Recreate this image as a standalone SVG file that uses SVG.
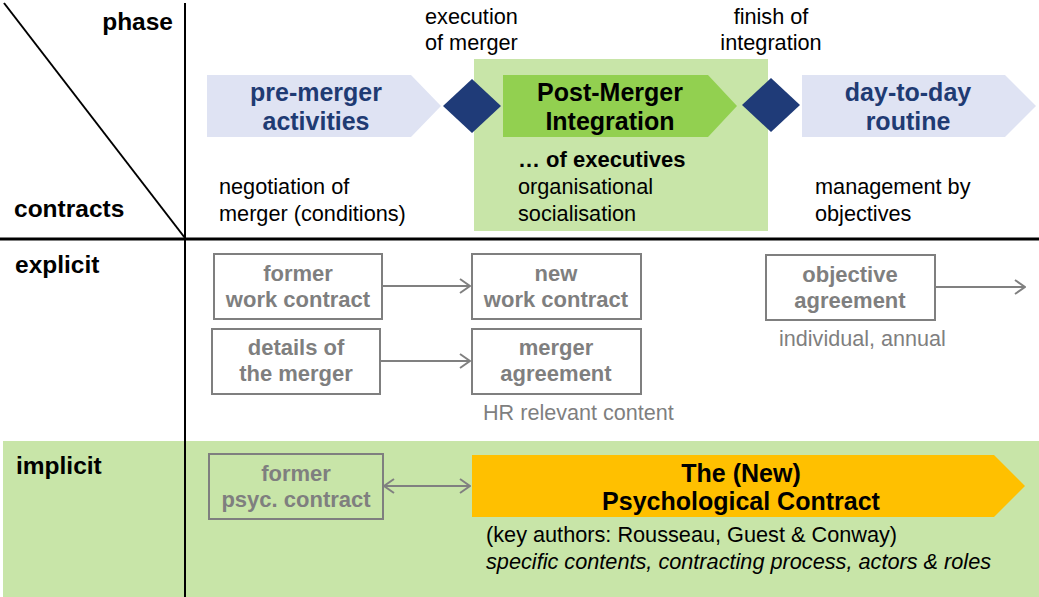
<svg xmlns="http://www.w3.org/2000/svg" width="1039" height="597" viewBox="0 0 1039 597">
<defs>
<style>
text{font-family:"Liberation Sans",Arial,sans-serif;}
.lbl{font-size:24.5px;font-weight:bold;fill:#000;}
.ph{font-size:25px;font-weight:bold;text-anchor:middle;}
.blue{fill:#1F3B73;}
.reg{font-size:21.7px;fill:#000;}
.box{fill:none;stroke:#7F7F7F;stroke-width:2;}
.bt{font-size:22px;font-weight:bold;fill:#7F7F7F;text-anchor:middle;}
.gt{font-size:21.6px;fill:#7F7F7F;}
.con{fill:none;stroke:#808080;stroke-width:2;}
.axis{stroke:#000;fill:none;}
</style>
<marker id="ah" viewBox="0 0 12 16" refX="11" refY="8" markerWidth="12" markerHeight="16" markerUnits="userSpaceOnUse" orient="auto-start-reverse">
<path d="M1,1 L11,8 L1,15" fill="none" stroke="#808080" stroke-width="2"/>
</marker>
</defs>

<!-- backgrounds -->
<rect id="bg-post" x="474" y="59" width="294" height="172" fill="#C8E5A8"/>
<rect id="bg-implicit" x="3" y="441" width="1036" height="156" fill="#C8E5A8"/>

<!-- axes -->
<g id="axes">
<line class="axis" x1="4" y1="3" x2="185" y2="238" stroke-width="2"/>
<line class="axis" x1="185" y1="3" x2="185" y2="597" stroke-width="2"/>
<line class="axis" x1="0" y1="239" x2="1039" y2="239" stroke-width="3"/>
</g>

<!-- row labels -->
<text class="lbl" x="173" y="30" text-anchor="end">phase</text>
<text class="lbl" x="14" y="217">contracts</text>
<text class="lbl" x="15" y="273">explicit</text>
<text class="lbl" x="16" y="474">implicit</text>

<!-- milestone labels -->
<text class="reg" x="425" y="24">execution</text>
<text class="reg" x="425" y="50">of merger</text>
<text class="reg" x="771" y="24" text-anchor="middle">finish of</text>
<text class="reg" x="771" y="50" text-anchor="middle">integration</text>

<!-- phases -->
<g id="pre-merger">
<polygon points="207,75 411,75 441,106 411,137 207,137" fill="#DFE3F3"/>
<text class="ph blue" x="316" y="101">pre-merger</text>
<text class="ph blue" x="316" y="130">activities</text>
</g>
<g id="diamond-execution">
<polygon points="443,106 472,79 501,106 472,133" fill="#1F3B78"/>
</g>
<g id="post-merger">
<polygon points="503,75 708,75 737,106 708,137 503,137" fill="#92D050"/>
<text class="ph" x="610" y="101">Post-Merger</text>
<text class="ph" x="610" y="130">Integration</text>
</g>
<g id="diamond-finish">
<polygon points="742,105 771,78 800,105 771,132" fill="#1F3B78"/>
</g>
<g id="day-to-day">
<polygon points="802,75 1005,75 1036,106 1005,137 802,137" fill="#DFE3F3"/>
<text class="ph blue" x="908" y="101">day-to-day</text>
<text class="ph blue" x="908" y="130">routine</text>
</g>

<!-- phase descriptions -->
<text class="reg" x="219" y="194">negotiation of</text>
<text class="reg" x="219" y="221">merger (conditions)</text>
<text class="reg" x="518" y="167" font-weight="bold" style="font-size:22px">… of executives</text>
<text class="reg" x="518" y="194">organisational</text>
<text class="reg" x="518" y="221">socialisation</text>
<text class="reg" x="815" y="194">management by</text>
<text class="reg" x="815" y="221">objectives</text>

<!-- explicit boxes -->
<g id="former-work-contract">
<rect class="box" x="214" y="254" width="168" height="65"/>
<text class="bt" x="298" y="281">former</text>
<text class="bt" x="298" y="307">work contract</text>
</g>
<g id="new-work-contract">
<rect class="box" x="472" y="254" width="169" height="65"/>
<text class="bt" x="556" y="281">new</text>
<text class="bt" x="556" y="307">work contract</text>
</g>
<g id="details-merger">
<rect class="box" x="212" y="329" width="168" height="65"/>
<text class="bt" x="296" y="355">details of</text>
<text class="bt" x="296" y="381">the merger</text>
</g>
<g id="merger-agreement">
<rect class="box" x="472" y="329" width="169" height="65"/>
<text class="bt" x="556" y="355">merger</text>
<text class="bt" x="556" y="381">agreement</text>
<text class="gt" x="483" y="420">HR relevant content</text>
</g>
<g id="objective-agreement">
<rect class="box" x="766" y="255" width="169" height="65"/>
<text class="bt" x="850" y="282">objective</text>
<text class="bt" x="850" y="308">agreement</text>
<text class="gt" x="779" y="346">individual,  annual</text>
</g>

<!-- implicit -->
<g id="former-psyc">
<rect class="box" x="209" y="454" width="174" height="65"/>
<text class="bt" x="296" y="481">former</text>
<text class="bt" x="296" y="507">psyc. contract</text>
</g>
<g id="new-psyc">
<polygon points="472,455 994,455 1025,486 994,517 472,517" fill="#FFC000"/>
<text class="ph" x="741" y="482">The (New)</text>
<text class="ph" x="741" y="510">Psychological Contract</text>
<text class="reg" x="486" y="542">(key authors: Rousseau, Guest &amp; Conway)</text>
<text class="reg" x="486" y="569" font-style="italic">specific contents, contracting process, actors &amp; roles</text>
</g>

<!-- connectors -->
<g id="connectors">
<line class="con" x1="382" y1="286" x2="470" y2="286" marker-end="url(#ah)"/>
<line class="con" x1="380" y1="361" x2="470" y2="361" marker-end="url(#ah)"/>
<line class="con" x1="935" y1="287" x2="1025" y2="287" marker-end="url(#ah)"/>
<line class="con" x1="384" y1="486" x2="470" y2="486" marker-start="url(#ah)" marker-end="url(#ah)"/>
</g>
</svg>
